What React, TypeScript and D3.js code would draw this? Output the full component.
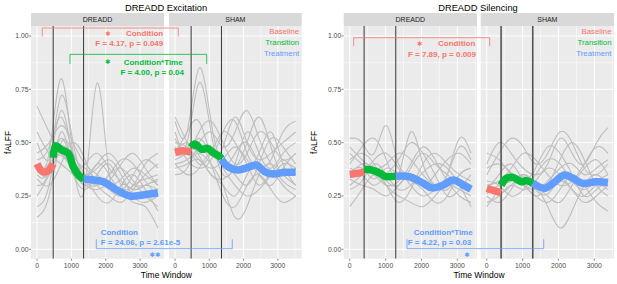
import React from "react";
import * as d3 from "d3";

// ---------- data ----------
const TIME_TICKS = [0, 1000, 2000, 3000];
const TIME_MINOR = [500, 1500, 2500, 3500];
const Y_TICKS = [0, 0.25, 0.5, 0.75, 1];
const Y_TICK_LABELS = ["0.00", "0.25", "0.50", "0.75", "1.00"];
const Y_MINOR = [0.125, 0.375, 0.625, 0.875];
const LEGEND_LABELS = ["Baseline", "Transition", "Treatment"];
const COLORS = ["#F8766D", "#00BA38", "#619CFF"];

const EXC_KNOTS = [0, 350, 700, 1050, 1400, 1750, 2100, 2450, 2800, 3150, 3520];
const SIL_KNOTS = [0, 340, 680, 1020, 1360, 1700, 2040, 2380, 2720, 3060, 3380];

const EXC_DREADD_GRAY = [
  [0.67, 0.55, 0.45, 0.40, 0.35, 0.40, 0.45, 0.38, 0.30, 0.30, 0.28],
  [0.40, 0.45, 0.80, 0.45, 0.30, 0.32, 0.30, 0.33, 0.38, 0.35, 0.30],
  [0.35, 0.40, 0.72, 0.50, 0.32, 0.30, 0.35, 0.42, 0.40, 0.32, 0.25],
  [0.30, 0.38, 0.65, 0.40, 0.30, 0.78, 0.35, 0.30, 0.28, 0.30, 0.32],
  [0.45, 0.50, 0.58, 0.50, 0.40, 0.35, 0.30, 0.28, 0.30, 0.40, 0.45],
  [0.20, 0.30, 0.55, 0.38, 0.32, 0.25, 0.22, 0.30, 0.35, 0.28, 0.18],
  [0.38, 0.35, 0.48, 0.42, 0.35, 0.38, 0.42, 0.35, 0.25, 0.22, 0.25],
  [0.55, 0.45, 0.40, 0.35, 0.30, 0.28, 0.32, 0.40, 0.45, 0.38, 0.30],
  [0.33, 0.30, 0.40, 0.50, 0.42, 0.30, 0.25, 0.22, 0.28, 0.35, 0.40],
  [0.25, 0.35, 0.45, 0.35, 0.28, 0.35, 0.40, 0.30, 0.22, 0.20, 0.10],
  [0.42, 0.48, 0.62, 0.45, 0.38, 0.32, 0.28, 0.25, 0.30, 0.33, 0.35],
  [0.15, 0.25, 0.50, 0.45, 0.35, 0.30, 0.35, 0.38, 0.32, 0.25, 0.20],
  [0.50, 0.42, 0.52, 0.40, 0.33, 0.40, 0.35, 0.28, 0.35, 0.42, 0.38],
  [0.36, 0.40, 0.44, 0.38, 0.40, 0.45, 0.38, 0.32, 0.28, 0.30, 0.33],
];
const EXC_SHAM_GRAY = [
  [0.60, 0.55, 0.85, 0.60, 0.40, 0.45, 0.50, 0.40, 0.35, 0.40, 0.38],
  [0.55, 0.50, 0.78, 0.55, 0.35, 0.40, 0.55, 0.45, 0.38, 0.45, 0.50],
  [0.48, 0.45, 0.55, 0.60, 0.50, 0.40, 0.45, 0.55, 0.50, 0.42, 0.45],
  [0.40, 0.42, 0.45, 0.40, 0.30, 0.15, 0.20, 0.35, 0.40, 0.35, 0.30],
  [0.45, 0.55, 0.60, 0.45, 0.48, 0.62, 0.50, 0.42, 0.45, 0.50, 0.55],
  [0.38, 0.40, 0.42, 0.35, 0.30, 0.25, 0.35, 0.45, 0.55, 0.40, 0.30],
  [0.62, 0.50, 0.40, 0.45, 0.55, 0.50, 0.40, 0.30, 0.35, 0.30, 0.25],
  [0.42, 0.45, 0.50, 0.55, 0.48, 0.55, 0.65, 0.52, 0.40, 0.32, 0.28],
  [0.50, 0.48, 0.42, 0.38, 0.42, 0.48, 0.42, 0.35, 0.30, 0.38, 0.45],
  [0.35, 0.38, 0.48, 0.40, 0.25, 0.20, 0.30, 0.35, 0.28, 0.22, 0.25],
  [0.44, 0.46, 0.52, 0.45, 0.40, 0.35, 0.30, 0.40, 0.52, 0.48, 0.40],
  [0.52, 0.42, 0.38, 0.42, 0.55, 0.60, 0.45, 0.38, 0.42, 0.55, 0.60],
  [0.46, 0.50, 0.44, 0.35, 0.33, 0.38, 0.50, 0.62, 0.48, 0.35, 0.38],
  [0.40, 0.35, 0.38, 0.45, 0.38, 0.30, 0.25, 0.28, 0.35, 0.42, 0.35],
];
const SIL_DREADD_GRAY = [
  [0.52, 0.50, 0.45, 0.58, 0.40, 0.35, 0.30, 0.35, 0.42, 0.45, 0.40],
  [0.40, 0.48, 0.52, 0.42, 0.35, 0.55, 0.40, 0.30, 0.28, 0.35, 0.38],
  [0.35, 0.40, 0.38, 0.32, 0.30, 0.38, 0.45, 0.40, 0.35, 0.30, 0.28],
  [0.30, 0.35, 0.42, 0.45, 0.38, 0.30, 0.25, 0.28, 0.35, 0.48, 0.42],
  [0.45, 0.40, 0.35, 0.30, 0.32, 0.40, 0.48, 0.42, 0.32, 0.25, 0.22],
  [0.20, 0.28, 0.35, 0.30, 0.25, 0.22, 0.20, 0.25, 0.30, 0.28, 0.25],
  [0.38, 0.35, 0.30, 0.35, 0.42, 0.50, 0.45, 0.35, 0.25, 0.28, 0.35],
  [0.33, 0.30, 0.28, 0.25, 0.30, 0.35, 0.32, 0.28, 0.35, 0.52, 0.45],
  [0.48, 0.42, 0.38, 0.40, 0.45, 0.42, 0.35, 0.30, 0.30, 0.32, 0.30],
  [0.28, 0.32, 0.40, 0.35, 0.28, 0.30, 0.36, 0.40, 0.38, 0.30, 0.20],
  [0.42, 0.45, 0.40, 0.30, 0.22, 0.28, 0.40, 0.45, 0.40, 0.35, 0.32],
  [0.36, 0.38, 0.33, 0.38, 0.35, 0.32, 0.28, 0.22, 0.25, 0.35, 0.38],
];
const SIL_SHAM_GRAY = [
  [0.40, 0.50, 0.45, 0.38, 0.35, 0.40, 0.52, 0.45, 0.40, 0.50, 0.57],
  [0.35, 0.45, 0.52, 0.48, 0.40, 0.45, 0.55, 0.50, 0.38, 0.35, 0.40],
  [0.30, 0.32, 0.38, 0.45, 0.42, 0.35, 0.30, 0.32, 0.40, 0.48, 0.45],
  [0.25, 0.22, 0.28, 0.35, 0.30, 0.20, 0.10, 0.18, 0.30, 0.35, 0.30],
  [0.28, 0.35, 0.40, 0.32, 0.25, 0.30, 0.42, 0.50, 0.42, 0.30, 0.25],
  [0.22, 0.25, 0.30, 0.28, 0.32, 0.38, 0.35, 0.28, 0.22, 0.25, 0.30],
  [0.45, 0.42, 0.35, 0.30, 0.28, 0.32, 0.38, 0.40, 0.35, 0.38, 0.42],
  [0.20, 0.28, 0.34, 0.30, 0.25, 0.22, 0.28, 0.35, 0.30, 0.22, 0.18],
  [0.32, 0.30, 0.25, 0.28, 0.35, 0.42, 0.40, 0.32, 0.28, 0.32, 0.35],
  [0.26, 0.30, 0.32, 0.35, 0.30, 0.25, 0.22, 0.30, 0.38, 0.42, 0.35],
  [0.38, 0.40, 0.36, 0.32, 0.38, 0.48, 0.45, 0.35, 0.25, 0.28, 0.32],
  [0.28, 0.26, 0.30, 0.34, 0.28, 0.26, 0.32, 0.28, 0.25, 0.30, 0.28],
];

// group means: [baseline, transition, treatment], each {x, y}
const EXC_DREADD_MEAN = [
  { x: [0, 150, 300, 470], y: [0.40, 0.365, 0.365, 0.40] },
  { x: [470, 540, 720, 910, 1055, 1250, 1355], y: [0.43, 0.485, 0.466, 0.45, 0.387, 0.34, 0.33] },
  { x: [1355, 1650, 1930, 2320, 2700, 3090, 3520], y: [0.33, 0.325, 0.317, 0.278, 0.25, 0.255, 0.265] },
];
const EXC_SHAM_MEAN = [
  { x: [0, 230, 470], y: [0.455, 0.462, 0.455] },
  { x: [470, 580, 775, 948, 1113, 1308, 1355], y: [0.478, 0.494, 0.469, 0.473, 0.453, 0.434, 0.425] },
  { x: [1355, 1550, 1840, 2130, 2372, 2616, 2858, 3198, 3520], y: [0.422, 0.387, 0.372, 0.384, 0.395, 0.364, 0.353, 0.361, 0.361] },
];
const SIL_DREADD_MEAN = [
  { x: [0, 200, 400], y: [0.352, 0.356, 0.362] },
  { x: [400, 667, 852, 991, 1283], y: [0.375, 0.369, 0.356, 0.342, 0.343] },
  { x: [1283, 1685, 2056, 2287, 2611, 2889, 3167, 3380], y: [0.343, 0.34, 0.309, 0.288, 0.301, 0.325, 0.301, 0.281] },
];
const SIL_SHAM_MEAN = [
  { x: [0, 200, 400], y: [0.285, 0.275, 0.265] },
  { x: [400, 546, 731, 963, 1102, 1283], y: [0.30, 0.333, 0.337, 0.317, 0.322, 0.31] },
  { x: [1283, 1611, 1843, 2167, 2398, 2676, 3046, 3380], y: [0.31, 0.286, 0.309, 0.348, 0.333, 0.309, 0.317, 0.313] },
];

const EXC_VLINES = [470, 1355];
const SIL_VLINES = [400, 1283];

// ---------- layout ----------
const FONT = "'Liberation Sans', Arial, Helvetica, sans-serif";
const STRIP_TOP = 13;
const PANEL_TOP = 26;
const PANEL_BOTTOM = 258.7;
const yScale = d3.scaleLinear().domain([0, 1]).range([249.3, 36]);

function makeX(x0: number, x1: number, maxX: number) {
  return d3.scaleLinear().domain([-0.05 * maxX, 1.05 * maxX]).range([x0, x1]);
}

function Panel(props: any) {
  const { x0, x1, maxX, label, knots, gray, mean, vlines, vColor, vWidth, legend, id } = props;
  const x = makeX(x0, x1, maxX);
  const dom = x.domain();
  const grayLine = d3
    .line<[number, number]>()
    .x((d) => x(d[0]))
    .y((d) => yScale(d[1]))
    .curve(d3.curveNatural);
  const meanLine = d3
    .line<[number, number]>()
    .x((d) => x(d[0]))
    .y((d) => yScale(d[1]))
    .curve(d3.curveCatmullRom);
  return (
    <g>
      <defs>
        <clipPath id={id}>
          <rect x={x0} y={PANEL_TOP} width={x1 - x0} height={PANEL_BOTTOM - PANEL_TOP} />
        </clipPath>
      </defs>
      <rect x={x0} y={STRIP_TOP} width={x1 - x0} height={PANEL_TOP - STRIP_TOP} fill="#D9D9D9" />
      <text x={(x0 + x1) / 2} y={(STRIP_TOP + PANEL_TOP) / 2} dy="0.35em" textAnchor="middle" fontSize={7} fill="#1A1A1A" fontFamily={FONT}>
        {label}
      </text>
      <rect x={x0} y={PANEL_TOP} width={x1 - x0} height={PANEL_BOTTOM - PANEL_TOP} fill="#EBEBEB" />
      <g clipPath={`url(#${id})`}>
        {Y_MINOR.map((v) => (
          <line key={"ym" + v} x1={x0} x2={x1} y1={yScale(v)} y2={yScale(v)} stroke="#fff" strokeWidth={0.5} />
        ))}
        {TIME_MINOR.filter((t) => t <= dom[1]).map((t) => (
          <line key={"xm" + t} x1={x(t)} x2={x(t)} y1={PANEL_TOP} y2={PANEL_BOTTOM} stroke="#fff" strokeWidth={0.5} />
        ))}
        {Y_TICKS.map((v) => (
          <line key={"yM" + v} x1={x0} x2={x1} y1={yScale(v)} y2={yScale(v)} stroke="#fff" strokeWidth={1} />
        ))}
        {TIME_TICKS.map((t) => (
          <line key={"xM" + t} x1={x(t)} x2={x(t)} y1={PANEL_TOP} y2={PANEL_BOTTOM} stroke="#fff" strokeWidth={1} />
        ))}
        {gray.map((s: number[], i: number) => (
          <path
            key={"g" + i}
            d={grayLine(s.map((v, j) => [knots[j], v] as [number, number])) || ""}
            fill="none"
            stroke="#BEBEBE"
            strokeWidth={1.1}
          />
        ))}
        {vlines.map((t: number) => (
          <line key={"v" + t} x1={x(t)} x2={x(t)} y1={PANEL_TOP} y2={PANEL_BOTTOM} stroke={vColor} strokeWidth={vWidth} />
        ))}
        {mean.map((seg: any, i: number) => (
          <path
            key={"m" + i}
            d={meanLine(seg.x.map((t: number, j: number) => [t, seg.y[j]] as [number, number])) || ""}
            fill="none"
            stroke={COLORS[i]}
            strokeWidth={7.5}
            strokeLinejoin="round"
          />
        ))}
      </g>
      {TIME_TICKS.map((t, i) => (
        <g key={"xt" + t}>
          <line x1={x(t)} x2={x(t)} y1={PANEL_BOTTOM} y2={PANEL_BOTTOM + 2} stroke="#333" strokeWidth={0.6} />
          <text x={x(t)} y={266} dy="0.35em" textAnchor="middle" fontSize={6.8} fill="#4D4D4D" fontFamily={FONT}>
            {String(TIME_TICKS[i])}
          </text>
        </g>
      ))}
      {legend &&
        LEGEND_LABELS.map((l, i) => (
          <text key={l} x={x1 - 2.5} y={PANEL_TOP + 5 + i * 11.2} dy="0.35em" textAnchor="end" fontSize={7.8} fill={COLORS[i]} fontFamily={FONT}>
            {l}
          </text>
        ))}
    </g>
  );
}

function YAxis({ x0, titleX }: { x0: number; titleX: number }) {
  return (
    <g>
      {Y_TICKS.map((v, i) => (
        <g key={v}>
          <line x1={x0 - 2} x2={x0} y1={yScale(v)} y2={yScale(v)} stroke="#333" strokeWidth={0.6} />
          <text x={x0 - 2.5} y={yScale(v)} dy="0.35em" textAnchor="end" fontSize={6.8} fill="#4D4D4D" fontFamily={FONT}>
            {Y_TICK_LABELS[i]}
          </text>
        </g>
      ))}
      <text
        transform={`translate(${titleX},${(PANEL_TOP + PANEL_BOTTOM) / 2}) rotate(-90)`}
        dy="0.35em"
        textAnchor="middle"
        fontSize={8.5}
        fill="#000"
        fontFamily={FONT}
      >
        fALFF
      </text>
    </g>
  );
}

function Bracket({ x, xa, xb, yTop, yLeg, color }: any) {
  const X1 = x(xa), X2 = x(xb), Y1 = yScale(yTop), Y2 = yScale(yLeg);
  return <path d={`M${X1},${Y2}V${Y1}H${X2}V${Y2}`} fill="none" stroke={color} strokeWidth={0.8} />;
}

function T({ x, y, children, anchor = "start", color, size = 8, weight = "bold" }: any) {
  return (
    <text x={x} y={y} dy="0.35em" textAnchor={anchor} fontSize={size} fontWeight={weight} fill={color} fontFamily={FONT}>
      {children}
    </text>
  );
}

function Star({ x, y, color, n = 1 }: any) {
  // heavy asterisk glyph: large glyph in a small em box
  return (
    <text x={x} y={y} dy="0.36em" textAnchor="middle" fontSize={6.5} fill={color} fontFamily="'DejaVu Sans', sans-serif">
      {"\u2731".repeat(n)}
    </text>
  );
}

export default function App() {
  const exA = makeX(31, 164, 3520);
  const siA = makeX(343.7, 477, 3380);
  return (
    <svg width={617} height={284} style={{ position: "absolute", left: 0, top: 0, background: "#fff" }}>
      {/* ---------- Excitation ---------- */}
      <text x={166} y={8} dy="0.35em" textAnchor="middle" fontSize={9.3} fill="#000" fontFamily={FONT}>
        DREADD Excitation
      </text>
      <YAxis x0={31} titleX={8} />
      <Panel id="c1" x0={31} x1={164} maxX={3520} label="DREADD" knots={EXC_KNOTS} gray={EXC_DREADD_GRAY} mean={EXC_DREADD_MEAN} vlines={EXC_VLINES} vColor="#222" vWidth={0.9} />
      <Panel id="c2" x0={169} x1={301.7} maxX={3520} label="SHAM" knots={EXC_KNOTS} gray={EXC_SHAM_GRAY} mean={EXC_SHAM_MEAN} vlines={EXC_VLINES} vColor="#222" vWidth={0.9} legend />
      <text x={166.4} y={275.5} dy="0.35em" textAnchor="middle" fontSize={8.5} fill="#000" fontFamily={FONT}>
        Time Window
      </text>
      {/* annotations */}
      <Bracket x={exA} xa={153} xb={4112} yTop={1.0375} yLeg={0.997} color={COLORS[0]} />
      <Star x={exA(2065)} y={yScale(1.011)} color={COLORS[0]} />
      <T x={exA(3675)} y={yScale(1.011)} anchor="end" color={COLORS[0]}>Condition</T>
      <T x={exA(3675)} y={yScale(0.964)} anchor="end" color={COLORS[0]}>F = 4.17, p = 0.049</T>
      <Bracket x={exA} xa={959} xb={4939} yTop={0.914} yLeg={0.869} color={COLORS[1]} />
      <Star x={exA(2057)} y={yScale(0.878)} color={COLORS[1]} />
      <T x={exA(4240)} y={yScale(0.878)} anchor="end" color={COLORS[1]}>Condition*Time</T>
      <T x={exA(4278)} y={yScale(0.83)} anchor="end" color={COLORS[1]}>F = 4.00, p = 0.04</T>
      <T x={exA(1853)} y={yScale(0.081)} color={COLORS[2]}>Condition</T>
      <T x={exA(1853)} y={yScale(0.034)} color={COLORS[2]}>F = 24.06, p = 2.61e-5</T>
      <Bracket x={exA} xa={1725} xb={5684} yTop={0.003} yLeg={0.047} color={COLORS[2]} />
      <Star x={exA(3434)} y={yScale(-0.025)} color={COLORS[2]} n={2} />

      {/* ---------- Silencing ---------- */}
      <text x={478} y={8} dy="0.35em" textAnchor="middle" fontSize={9.3} fill="#000" fontFamily={FONT}>
        DREADD Silencing
      </text>
      <YAxis x0={343.7} titleX={314} />
      <Panel id="c3" x0={343.7} x1={477} maxX={3380} label="DREADD" knots={SIL_KNOTS} gray={SIL_DREADD_GRAY} mean={SIL_DREADD_MEAN} vlines={SIL_VLINES} vColor="#222" vWidth={0.9} />
      <Panel id="c4" x0={480.7} x1={614} maxX={3380} label="SHAM" knots={SIL_KNOTS} gray={SIL_SHAM_GRAY} mean={SIL_SHAM_MEAN} vlines={SIL_VLINES} vColor="#555" vWidth={1.6} legend />
      <text x={479} y={275.5} dy="0.35em" textAnchor="middle" fontSize={8.5} fill="#000" fontFamily={FONT}>
        Time Window
      </text>
      <Bracket x={siA} xa={110} xb={3904} yTop={0.992} yLeg={0.953} color={COLORS[0]} />
      <Star x={siA(1951)} y={yScale(0.964)} color={COLORS[0]} />
      <T x={siA(3502)} y={yScale(0.964)} anchor="end" color={COLORS[0]}>Condition</T>
      <T x={siA(3521)} y={yScale(0.914)} anchor="end" color={COLORS[0]}>F = 7.89, p = 0.009</T>
      <T x={siA(1784)} y={yScale(0.081)} color={COLORS[2]}>Condition*Time</T>
      <T x={siA(1616)} y={yScale(0.032)} color={COLORS[2]}>F = 4.22, p = 0.03</T>
      <Bracket x={siA} xa={1597} xb={5410} yTop={0.003} yLeg={0.047} color={COLORS[2]} />
      <Star x={siA(3270)} y={yScale(-0.025)} color={COLORS[2]} />
    </svg>
  );
}
